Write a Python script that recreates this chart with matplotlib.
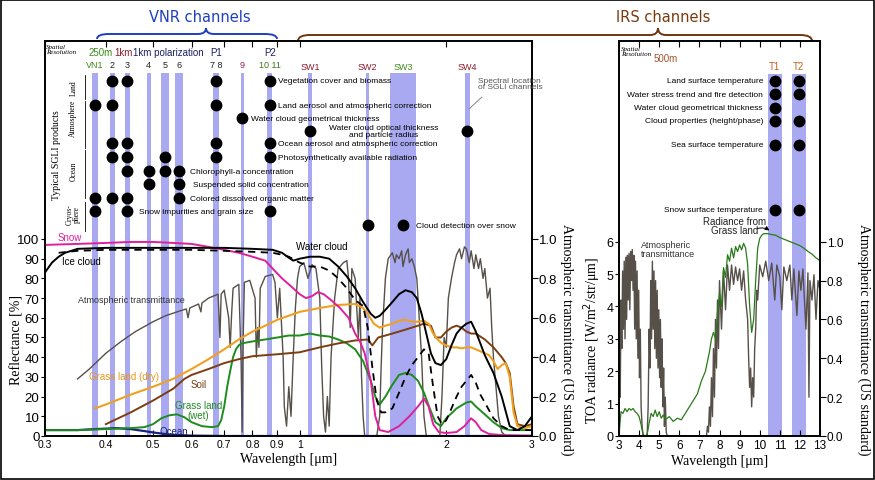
"""SGLI channels vs. spectral reflectance / TOA radiance (VNR + IRS)."""
import matplotlib
matplotlib.use("Agg")
import matplotlib.pyplot as plt
from matplotlib.path import Path
from matplotlib.patches import PathPatch, Rectangle

plt.rcParams['font.family'] = ['Liberation Sans', 'DejaVu Sans']

# --- SGLI channels (um) ---
vnr_names = ["VN1", "2", "3", "4", "5", "6", "7 8", "9", "10 11"]
vnr_center = [0.380, 0.412, 0.443, 0.490, 0.530, 0.565, 0.6735, 0.763, 0.8685]
vnr_width = [0.010, 0.010, 0.010, 0.010, 0.020, 0.020, 0.020, 0.012, 0.020]
vnr_colors = ["#3a8a1a", "#222222", "#222222", "#222222", "#222222", "#222222", "#222222", "#a0205a", "#3a7a1a"]
swi_names = ["SW1", "SW2", "SW3", "SW4"]
swi_center = [1.05, 1.38, 1.63, 2.21]
swi_width = [0.020, 0.020, 0.200, 0.050]
swi_colors = ["#8b1a2a", "#8b1a2a", "#3a8a1a", "#8b1a2a"]
tir_names = ["T1", "T2"]
tir_center = [10.75, 11.95]
tir_width = [0.70, 0.70]

# products: (label, channels used)
ch = dict(zip(["VN1", "VN2", "VN3", "VN4", "VN5", "VN6", "P1", "VN9", "P2", "SW1", "SW2", "SW3", "SW4"],
              vnr_center + swi_center))
vnr_products = [
    ("Vegetation cover and biomass", ["VN2", "VN3", "P1", "P2"]),
    ("Land aerosol and atmospheric correction", ["VN1", "VN2", "P1", "P2"]),
    ("Water cloud geometrical thickness", ["VN9"]),
    ("Water cloud optical thickness\nand particle radius", ["SW1", "SW4"]),
    ("Ocean aerosol and atmospheric correction", ["VN2", "VN3", "P1", "P2"]),
    ("Photosynthetically available radiation", ["VN2", "VN3", "VN5", "P1", "P2"]),
    ("Chlorophyll-a concentration", ["VN3", "VN4", "VN5", "VN6"]),
    ("Suspended solid concentration", ["VN4", "VN6"]),
    ("Colored dissolved organic matter", ["VN1", "VN2", "VN3", "VN6"]),
    ("Snow impurities and grain size", ["VN1", "VN3", "P2"]),
    ("Cloud detection over snow", ["SW2", "SW3"]),
]
vnr_row_y = [180.2, 168.0, 161.4, 154.8, 148.7, 141.6, 134.5, 127.9, 120.8, 114.2, 107.1]
vnr_text_x = [0.904, 0.904, 0.796, 1.49, 0.904, 0.904, 0.596, 0.605, 0.596, 0.468, 1.73]

irs_products = [
    ("Land surface temperature", ["T1", "T2"]),
    ("Water stress trend and fire detection", ["T1", "T2"]),
    ("Water cloud geometrical thickness", ["T1"]),
    ("Cloud properties (height/phase)", ["T1", "T2"]),
    ("Sea surface temperature", ["T1", "T2"]),
    ("Snow surface temperature", ["T1", "T2"]),
]
irs_row_y = [10.98, 10.55, 10.14, 9.74, 9.00, 6.99]

# --- Reflectance spectra (%) ---
snow_wl = [0.30, 0.35, 0.40, 0.45, 0.50, 0.55, 0.60, 0.65, 0.70, 0.75, 0.80, 0.85, 0.88, 0.92, 0.96, 1.00,
           1.03, 1.06, 1.09, 1.12, 1.16, 1.21, 1.26, 1.30, 1.33, 1.36, 1.40, 1.43, 1.46, 1.52, 1.60, 1.68,
           1.75, 1.80, 1.84, 1.88, 1.93, 2.00, 2.10, 2.18, 2.25, 2.30, 2.36, 2.45, 2.60, 2.80, 3.00]
snow_r = [97, 97.5, 98, 98.5, 98.5, 98, 97.5, 96, 94.5, 93, 91, 89, 85, 80, 76, 72,
          70, 71, 73, 72, 69, 65, 60, 52, 48, 42, 28, 10, 3, 2, 5, 10,
          15, 19, 15, 6, 2, 1.5, 2, 5, 9, 7, 3, 1, 0.5, 0.3, 0.2]

wcloud_wl = [0.30, 0.31, 0.32, 0.33, 0.35, 0.40, 0.50, 0.60, 0.70, 0.80, 0.88, 0.92, 0.95, 0.97, 1.00,
             1.05, 1.10, 1.15, 1.20, 1.25, 1.30, 1.35, 1.40, 1.43, 1.46, 1.50, 1.55, 1.60, 1.65, 1.70,
             1.74, 1.78, 1.82, 1.86, 1.90, 1.95, 2.00, 2.05, 2.10, 2.15, 2.20, 2.25, 2.30, 2.35, 2.40,
             2.50, 2.60, 2.70, 2.80, 2.90, 3.00]
wcloud_r = [83, 88, 91, 93, 95, 95.5, 95.5, 95.5, 95.5, 95, 94.5, 93, 90.5, 89, 90,
            91, 91, 90, 86, 81, 75, 68, 62, 60, 61, 64, 68, 72, 74, 73,
            70, 62, 52, 42, 37, 36, 39, 46, 52, 55, 57, 58, 53, 47, 41,
            32, 20, 5, 3, 5, 10]

icloud_wl = [0.32, 0.35, 0.40, 0.50, 0.60, 0.70, 0.80, 0.88, 0.92, 0.95, 1.00, 1.05, 1.10, 1.15, 1.20,
             1.25, 1.30, 1.35, 1.38, 1.41, 1.44, 1.47, 1.50, 1.55, 1.60, 1.65, 1.70, 1.75, 1.80, 1.84,
             1.88, 1.92, 1.96, 2.00, 2.05, 2.10, 2.15, 2.20, 2.25, 2.30, 2.35, 2.40, 2.50, 2.60, 2.70,
             2.80, 3.00]
icloud_r = [93, 94, 94.5, 94.5, 94.5, 94, 93.5, 93, 92, 91, 88, 86, 86, 84, 80,
            75, 69, 66, 55, 35, 18, 12, 12, 14, 22, 30, 36, 40, 44, 42,
            25, 10, 6, 8, 14, 20, 25, 28, 31, 27, 21, 17, 9, 5, 3,
            3, 3]

gdry_wl = [0.38, 0.40, 0.45, 0.50, 0.55, 0.60, 0.65, 0.70, 0.75, 0.80, 0.85, 0.90, 1.00, 1.10, 1.20,
           1.30, 1.35, 1.38, 1.42, 1.46, 1.50, 1.55, 1.60, 1.65, 1.70, 1.75, 1.80, 1.84, 1.88, 1.92,
           1.96, 2.00, 2.05, 2.10, 2.15, 2.20, 2.25, 2.30, 2.35, 2.40, 2.45, 2.50, 2.55, 2.60, 2.65,
           2.70, 2.75, 2.80, 2.90, 3.00]
gdry_r = [14, 16, 21, 25, 29, 34, 39, 44, 49, 53, 56, 59, 63, 65, 66.5,
          67, 65, 62, 57, 55, 56, 57, 58.5, 59, 58, 58, 58.5, 57, 52, 49,
          47, 46, 45, 45, 44.5, 45, 45, 44, 43, 42, 41, 38, 34, 36, 37,
          30, 12, 5, 4, 5]

soil_wl = [0.40, 0.45, 0.50, 0.55, 0.58, 0.60, 0.65, 0.70, 0.75, 0.80, 0.90, 1.00, 1.10, 1.20, 1.30,
           1.38, 1.41, 1.45, 1.50, 1.60, 1.70, 1.80, 1.86, 1.90, 1.95, 2.00, 2.05, 2.10, 2.15, 2.20,
           2.25, 2.30, 2.40, 2.50, 2.60, 2.65, 2.70, 2.75, 2.80, 2.90, 3.00]
soil_r = [6, 12, 18, 24, 29, 31, 34, 37, 39, 40.5, 41.5, 42.5, 45, 47, 48.5,
          49, 46, 50, 51, 53, 55, 57, 56, 50, 50, 53, 55, 56, 55, 53,
          52, 52, 49, 45, 40, 37, 32, 15, 6, 5, 6]

gwet_wl = [0.30, 0.35, 0.40, 0.45, 0.48, 0.50, 0.52, 0.54, 0.56, 0.58, 0.60, 0.63, 0.66, 0.68, 0.69,
           0.70, 0.71, 0.72, 0.73, 0.74, 0.75, 0.76, 0.80, 0.85, 0.90, 0.95, 1.00, 1.05, 1.10, 1.15,
           1.20, 1.25, 1.30, 1.35, 1.40, 1.43, 1.46, 1.50, 1.55, 1.60, 1.65, 1.70, 1.75, 1.80, 1.85,
           1.90, 1.95, 2.00, 2.10, 2.20, 2.25, 2.30, 2.40, 2.50, 2.60, 2.70, 2.80, 3.00]
gwet_r = [3, 3, 3.5, 4, 4.5, 6, 9, 10.5, 11, 9.5, 7, 5, 4.5, 5, 8,
          15, 25, 33, 40, 44, 46, 47, 48, 49, 50, 51, 51, 52, 51, 50.5,
          49, 47, 44, 38, 28, 20, 16, 20, 26, 31, 32, 31, 28, 22, 14,
          7, 5, 9, 14, 17, 17.5, 15, 11, 7, 4, 3, 3, 3]

ocean_wl = [0.30, 0.35, 0.38, 0.42, 0.45, 0.48, 0.50, 0.53, 0.56, 0.60, 0.65, 0.70, 1.00, 3.00]
ocean_r = [3, 3, 3.5, 4, 3.5, 2.5, 1.8, 1.0, 0.5, 0.2, 0.1, 0, 0, 0]

# --- Atmospheric transmittance, VNR/SWIR range ---
atm_wl = [0.35, 0.37, 0.40, 0.43, 0.46, 0.50, 0.53, 0.56, 0.585, 0.59, 0.595, 0.62, 0.627, 0.63, 0.65,
          0.68, 0.686, 0.69, 0.695, 0.70, 0.715, 0.72, 0.725, 0.73, 0.75, 0.758, 0.762, 0.765, 0.77,
          0.79, 0.81, 0.815, 0.82, 0.825, 0.83, 0.85, 0.88, 0.89, 0.90, 0.91, 0.925, 0.93, 0.94, 0.95,
          0.96, 0.97, 0.98, 0.99, 1.00, 1.02, 1.04, 1.06, 1.08, 1.10, 1.11, 1.12, 1.13, 1.14, 1.15,
          1.16, 1.18, 1.20, 1.23, 1.25, 1.26, 1.27, 1.28, 1.30, 1.32, 1.33, 1.34, 1.35, 1.36, 1.44,
          1.46, 1.47, 1.48, 1.50, 1.52, 1.55, 1.57, 1.58, 1.60, 1.62, 1.63, 1.65, 1.67, 1.68, 1.70,
          1.72, 1.74, 1.76, 1.78, 1.80, 1.82, 1.94, 1.96, 1.98, 2.00, 2.02, 2.05, 2.08, 2.10, 2.13,
          2.15, 2.18, 2.20, 2.23, 2.25, 2.28, 2.30, 2.33, 2.35, 2.38, 2.40, 2.43, 2.46, 2.48, 2.50,
          2.53, 2.56, 2.60, 2.65, 3.00]
atm_t = [0.29, 0.34, 0.42, 0.48, 0.53, 0.58, 0.61, 0.63, 0.645, 0.60, 0.65, 0.67, 0.63, 0.675, 0.70,
         0.72, 0.50, 0.72, 0.73, 0.74, 0.60, 0.45, 0.62, 0.75, 0.77, 0.40, 0.02, 0.45, 0.78,
         0.79, 0.70, 0.40, 0.55, 0.45, 0.75, 0.81, 0.82, 0.78, 0.60, 0.75, 0.40, 0.15, 0.05, 0.25,
         0.10, 0.40, 0.65, 0.80, 0.86, 0.88, 0.80, 0.87, 0.85, 0.70, 0.35, 0.10, 0.02, 0.20, 0.05,
         0.40, 0.70, 0.85, 0.88, 0.89, 0.80, 0.55, 0.85, 0.80, 0.50, 0.70, 0.30, 0.10, 0.00, 0.00,
         0.10, 0.35, 0.55, 0.80, 0.90, 0.93, 0.88, 0.92, 0.90, 0.94, 0.86, 0.92, 0.95, 0.88, 0.90,
         0.86, 0.80, 0.60, 0.40, 0.10, 0.00, 0.00, 0.20, 0.50, 0.45, 0.70, 0.80, 0.88, 0.92, 0.95,
         0.90, 0.96, 0.95, 0.88, 0.94, 0.85, 0.92, 0.85, 0.90, 0.80, 0.85, 0.70, 0.75, 0.55, 0.40,
         0.25, 0.10, 0.02, 0.00, 0.00]

# --- TIR range: transmittance and TOA radiance from grass land ---
irs_wl = [3.00, 3.03, 3.06, 3.10, 3.14, 3.18, 3.22, 3.26, 3.30, 3.34, 3.38, 3.42, 3.46, 3.50, 3.54,
          3.58, 3.62, 3.66, 3.70, 3.74, 3.78, 3.82, 3.86, 3.90, 3.94, 3.98, 4.02, 4.06, 4.10, 4.15,
          4.20, 4.40, 4.45, 4.50, 4.54, 4.58, 4.62, 4.66, 4.70, 4.74, 4.78, 4.82, 4.86, 4.90, 4.94,
          4.98, 5.02, 5.06, 5.10, 5.14, 5.18, 5.22, 5.26, 5.30, 5.35, 5.40, 7.35, 7.40, 7.45, 7.50,
          7.55, 7.60, 7.65, 7.70, 7.75, 7.80, 7.85, 7.90, 7.95, 8.00, 8.10, 8.20, 8.30, 8.40, 8.50,
          8.60, 8.70, 8.80, 8.90, 9.00, 9.10, 9.20, 9.30, 9.40, 9.45, 9.50, 9.55, 9.60, 9.65, 9.70,
          9.75, 9.80, 9.85, 9.90, 10.00, 10.15, 10.30, 10.45, 10.60, 10.75, 10.85, 11.00, 11.10, 11.20,
          11.35, 11.50, 11.60, 11.70, 11.85, 11.95, 12.05, 12.15, 12.30, 12.40, 12.45, 12.50, 12.60,
          12.70, 12.80, 12.90, 13.00]
irs_t = [0.00, 0.35, 0.20, 0.70, 0.45, 0.85, 0.55, 0.90, 0.50, 0.92, 0.60, 0.93, 0.70, 0.94, 0.65,
         0.95, 0.80, 0.96, 0.75, 0.93, 0.55, 0.90, 0.50, 0.85, 0.40, 0.75, 0.30, 0.55, 0.15, 0.05,
         0.00, 0.00, 0.15, 0.55, 0.35, 0.80, 0.50, 0.90, 0.55, 0.85, 0.45, 0.80, 0.40, 0.75, 0.35,
         0.65, 0.30, 0.60, 0.25, 0.50, 0.15, 0.35, 0.05, 0.20, 0.02, 0.00, 0.00, 0.05, 0.02, 0.15,
         0.05, 0.30, 0.10, 0.45, 0.20, 0.60, 0.35, 0.70, 0.45, 0.80, 0.55, 0.85, 0.65, 0.88, 0.75,
         0.88, 0.78, 0.87, 0.80, 0.86, 0.75, 0.85, 0.70, 0.60, 0.40, 0.25, 0.35, 0.15, 0.30, 0.20,
         0.45, 0.55, 0.75, 0.70, 0.88, 0.82, 0.90, 0.80, 0.89, 0.70, 0.88, 0.82, 0.65, 0.87,
         0.80, 0.88, 0.70, 0.86, 0.62, 0.85, 0.75, 0.86, 0.55, 0.84, 0.20, 0.80, 0.70,
         0.83, 0.60, 0.80, 0.75]

rad_wl = [3.00, 3.05, 3.10, 3.20, 3.30, 3.40, 3.50, 3.60, 3.70, 3.80, 3.90, 4.00, 4.10, 4.20, 4.30,
          4.40, 4.50, 4.60, 4.70, 4.80, 4.90, 5.00, 5.10, 5.20, 5.30, 5.50, 5.70, 5.90, 6.10, 6.30,
          6.50, 6.70, 6.90, 7.10, 7.30, 7.50, 7.60, 7.70, 7.80, 7.90, 8.00, 8.10, 8.20, 8.30, 8.40,
          8.50, 8.60, 8.70, 8.80, 8.90, 9.00, 9.10, 9.20, 9.30, 9.40, 9.50, 9.60, 9.70, 9.80, 9.90,
          10.00, 10.10, 10.20, 10.40, 10.60, 10.80, 11.00, 11.20, 11.40, 11.60, 11.80, 12.00, 12.20,
          12.40, 12.60, 12.80, 13.00]
rad_v = [0.0, 0.4, 0.75, 0.7, 0.85, 0.75, 0.85, 0.8, 0.85, 0.75, 0.7, 0.6, 0.35, 0.05, 0.0,
         0.05, 0.4, 0.7, 0.6, 0.8, 0.6, 0.75, 0.55, 0.65, 0.5, 0.6, 0.45, 0.55, 0.5, 0.7,
         0.9, 1.1, 1.3, 1.7, 2.0, 2.6, 3.0, 3.2, 3.0, 3.8, 4.4, 4.0, 5.2, 4.9, 5.6,
         5.4, 5.8, 5.5, 5.85, 5.7, 5.9, 5.75, 5.95, 5.8, 5.3, 4.0, 3.2, 3.6, 4.8, 5.8,
         6.1, 6.2, 6.25, 6.25, 6.22, 6.2, 6.13, 6.08, 6.03, 5.98, 5.93, 5.88, 5.8,
         5.7, 5.62, 5.5, 5.42]

BAND = "#a9a9f2"
GRAY = "#575049"
W, H = 875, 481


def px_box(x0, y0, x1, y1):
    return [x0 / W, 1 - y1 / H, (x1 - x0) / W, (y1 - y0) / H]


def brace(ov, x0, x1, xp, ybase, ylev, ytip, color):
    verts = [(x0, ybase), (x0, ylev), (x0 + 12, ylev), (xp - 8, ylev), (xp, ylev), (xp, ytip),
             (xp, ylev), (xp + 8, ylev), (x1 - 12, ylev), (x1, ylev), (x1, ybase)]
    codes = [Path.MOVETO, Path.CURVE3, Path.CURVE3, Path.LINETO, Path.CURVE3, Path.CURVE3,
             Path.CURVE3, Path.CURVE3, Path.LINETO, Path.CURVE3, Path.CURVE3]
    ov.add_patch(PathPatch(Path(verts, codes), fill=False, ec=color, lw=1.4))


fig = plt.figure(figsize=(8.75, 4.81), dpi=100)

# overlay in pixel coordinates for braces and border
ov = fig.add_axes([0, 0, 1, 1])
ov.set_xlim(0, W)
ov.set_ylim(H, 0)
ov.axis("off")
ov.add_patch(Rectangle((0.5, 0.5), W - 1.5, H - 1.5, fill=False, ec="black", lw=1.2))
brace(ov, 97, 277, 206, 40, 35, 29, "#1f3fbf")
brace(ov, 298, 812, 658, 42, 36, 29, "#6e3512")
ov.text(200, 18, "VNR channels", color="#1f3fbf", fontsize=10.5, ha="center", va="center",
        family="DejaVu Sans")
ov.text(663, 18, "IRS channels", color="#7a3a10", fontsize=10.5, ha="center", va="center",
        family="DejaVu Sans")

# ================= VNR / SWIR panel =================
ax = fig.add_axes(px_box(45, 42, 532, 437))
axt = ax.twinx()
ax.set_zorder(axt.get_zorder() + 1)
ax.patch.set_visible(False)
ax.set_xscale("log")
ax.set_xlim(0.3, 3.0)
ax.set_ylim(0, 200.5)
axt.set_ylim(0, 2.005)
band_top = (437 - 74) / 395

for c, w in zip(vnr_center + swi_center, vnr_width + swi_width):
    axt.axvspan(c - w / 2, c + w / 2, ymin=0, ymax=band_top, color=BAND, lw=0)
axt.plot(atm_wl, atm_t, color=GRAY, lw=1.0)

ax.plot(ocean_wl, ocean_r, color="#1a237e", lw=1.6)
ax.plot(gwet_wl, gwet_r, color="#1d8c1d", lw=1.4)
ax.plot(soil_wl, soil_r, color="#7a3e12", lw=1.4)
ax.plot(gdry_wl, gdry_r, color="#f0a020", lw=1.5)
ax.plot(snow_wl, snow_r, color="#e0209a", lw=1.4)
ax.plot(icloud_wl, icloud_r, color="black", lw=1.3, ls=(0, (4, 3)))
ax.plot(wcloud_wl, wcloud_r, color="black", lw=1.4)

# product dots
for (label, used), yy, tx in zip(vnr_products, vnr_row_y, vnr_text_x):
    ax.plot([ch[k] for k in used], [yy] * len(used), "o", color="black", ms=7.5, zorder=5)
    ha = "center" if "\n" in label else "left"
    ax.text(tx, yy, label, fontsize=6, ha=ha, va="center", linespacing=0.85)

# header texts
ax.text(0.302, 196.4, "Spatial\nResolution", fontsize=5, style="italic", family="Liberation Serif",
        va="center", linespacing=0.9)
ax.text(0.368, 194.9, "250m", color="#3a8a1a", fontsize=7, va="center")
ax.text(0.416, 194.9, "1km", color="#8b1a2a", fontsize=7, va="center")
ax.text(0.455, 194.9, "1km polarization", color="#1a2060", fontsize=7, va="center")
ax.text(0.6735, 194.9, "P1", color="#1a2060", fontsize=7, ha="center", va="center")
ax.text(0.8685, 194.9, "P2", color="#1a2060", fontsize=7, ha="center", va="center")
for n, c, col in zip(vnr_names, vnr_center, vnr_colors):
    ax.text(c, 188.8, n, color=col, fontsize=6.5, ha="center", va="center")
for n, c, col in zip(swi_names, swi_center, swi_colors):
    ax.text(c, 187.8, n, color=col, fontsize=6.5, ha="center", va="center")

ax.text(0.317, 143, "Typical SGLI products", rotation=90, fontsize=7, family="Liberation Serif",
        ha="center", va="center")
for lab, yy in [("Land", 177), ("Atmosphere", 162), ("Ocean", 135), ("Cryos-\nphere", 113)]:
    ax.text(0.343, yy, lab, rotation=90, fontsize=5.5, family="Liberation Serif", ha="center",
            va="center", linespacing=0.9)
for y0, y1 in [(171, 183), (146, 170), (121, 145), (104, 119)]:
    ax.plot([0.362, 0.362], [y0, y1], color="black", lw=0.6)

ax.text(2.32, 179, "Spectral location\nof SGLI channels", fontsize=6, color="#555555", va="center",
        linespacing=0.9, clip_on=False)
ax.plot([2.366, 2.227], [172, 166], color="#888888", lw=0.7)

# curve labels
ax.text(0.319, 101, "Snow", color="#e0209a", fontsize=7, va="center")
ax.text(0.325, 88.8, "Ice cloud", color="black", fontsize=7, va="center")
ax.text(0.985, 96.4, "Water cloud", color="black", fontsize=7, va="center")
ax.text(0.351, 69.5, "Atmospheric transmittance", color="#333333", fontsize=6.5, va="center")
ax.text(0.369, 30.5, "Grass land (dry)", color="#e8961a", fontsize=7, va="center")
ax.text(0.596, 26.4, "Soil", color="#7a3e12", fontsize=7, va="center")
ax.text(0.619, 13.2, "Grass land\n(wet)", color="#1d8c1d", fontsize=7, ha="center", va="center",
        linespacing=0.9)
ax.text(0.515, 2.5, "Ocean", color="#1a237e", fontsize=7, va="center")

xt = [0.3, 0.4, 0.5, 0.6, 0.7, 0.8, 0.9, 1, 2, 3]
ax.set_xticks(xt)
ax.set_xticklabels(["0.3", "0.4", "0.5", "0.6", "0.7", "0.8", "0.9", "1", "2", "3"])
ax.xaxis.set_minor_locator(matplotlib.ticker.NullLocator())
ax.tick_params(axis="x", which="both", direction="in", top=True, length=4, labelsize=7.5, pad=2)
ax.set_yticks(range(0, 101, 10))
ax.tick_params(axis="y", direction="out", length=3, labelsize=9.5, pad=1)
axt.set_yticks([0, 0.2, 0.4, 0.6, 0.8, 1.0])
axt.set_yticklabels(["0.0", "0.2", "0.4", "0.6", "0.8", "1.0"])
axt.tick_params(axis="y", direction="out", length=4, labelsize=9.5, pad=1)
ax.set_xlabel("Wavelength [\u03bcm]", family="Liberation Serif", fontsize=10, labelpad=2)
ax.set_ylabel("Reflectance [%]", family="Liberation Serif", fontsize=10)
ax.yaxis.set_label_coords(-0.045, 0.245)
axt.set_ylabel("Atmospheric transmittance (US standard)", family="Liberation Serif", fontsize=10,
               rotation=-90, va="bottom")
axt.yaxis.set_label_coords(1.057, 0.245)
for a in (ax, axt):
    for s in a.spines.values():
        s.set_linewidth(1.2)

# ================= TIR panel =================
bx = fig.add_axes(px_box(619, 42, 820, 437))
bxt = bx.twinx()
bx.set_zorder(bxt.get_zorder() + 1)
bx.patch.set_visible(False)
bx.set_xlim(3, 13)
bx.set_ylim(0, 12.2)
bxt.set_ylim(0, 12.2 / 6)
band_top_r = (437 - 75) / 395
for c, w in zip(tir_center, tir_width):
    bxt.axvspan(c - w / 2, c + w / 2, ymin=0, ymax=band_top_r, color=BAND, lw=0)
bx.plot(rad_wl, rad_v, color="#2a7a1a", lw=0.9)
bxt.plot(irs_wl, irs_t, color=GRAY, lw=1.0)

for (label, used), yy in zip(irs_products, irs_row_y):
    bx.plot([tir_center[tir_names.index(k)] for k in used], [yy] * len(used), "o", color="black",
            ms=7.5, zorder=5)
    bx.text(10.16, yy, label, fontsize=6, ha="right", va="center")

bx.text(3.12, 11.9, "Spatial\nResolution", fontsize=5, style="italic", family="Liberation Serif",
        va="center", linespacing=0.9)
bx.text(4.7, 11.69, "500m", color="#a0522d", fontsize=7, va="center")
for n, c in zip(tir_names, tir_center):
    bx.text(c, 11.44, n, color="#c06020", fontsize=7, ha="center", va="center")

bx.text(4.09, 5.78, "Atmospheric\ntransmittance", fontsize=6.5, color="#333333", va="center",
        linespacing=0.9)
bx.text(8.77, 6.5, "Radiance from\nGrass land", fontsize=7, color="#222222", ha="center",
        va="center", linespacing=0.95)
bx.annotate("", xy=(10.6, 6.3), xytext=(9.75, 6.38),
            arrowprops=dict(arrowstyle="-|>", color="black", lw=0.7, mutation_scale=6,
                            connectionstyle="arc3,rad=-0.3"))

bx.set_xticks(range(3, 14))
bx.tick_params(axis="x", direction="in", top=True, length=4, labelsize=8.5, pad=2)
bx.set_yticks(range(0, 7))
bx.tick_params(axis="y", direction="out", length=3, labelsize=9, pad=1)
bxt.set_yticks([0, 0.2, 0.4, 0.6, 0.8, 1.0])
bxt.set_yticklabels(["0.0", "0.2", "0.4", "0.6", "0.8", "1.0"])
bxt.tick_params(axis="y", direction="out", length=4, labelsize=8.5, pad=1)
bx.set_xlabel("Wavelength [\u03bcm]", family="Liberation Serif", fontsize=10, labelpad=2)
bx.set_ylabel("TOA radiance [W/m$^2$/str/\u03bcm]", family="Liberation Serif", fontsize=10)
bx.yaxis.set_label_coords(-0.08, 0.245)
bxt.set_ylabel("Atmospheric transmittance (US standard)", family="Liberation Serif", fontsize=10,
               rotation=-90, va="bottom")
bxt.yaxis.set_label_coords(1.184, 0.245)
for a in (bx, bxt):
    for s in a.spines.values():
        s.set_linewidth(1.2)

fig.savefig("out.png", dpi=100)
plt.close(fig)
